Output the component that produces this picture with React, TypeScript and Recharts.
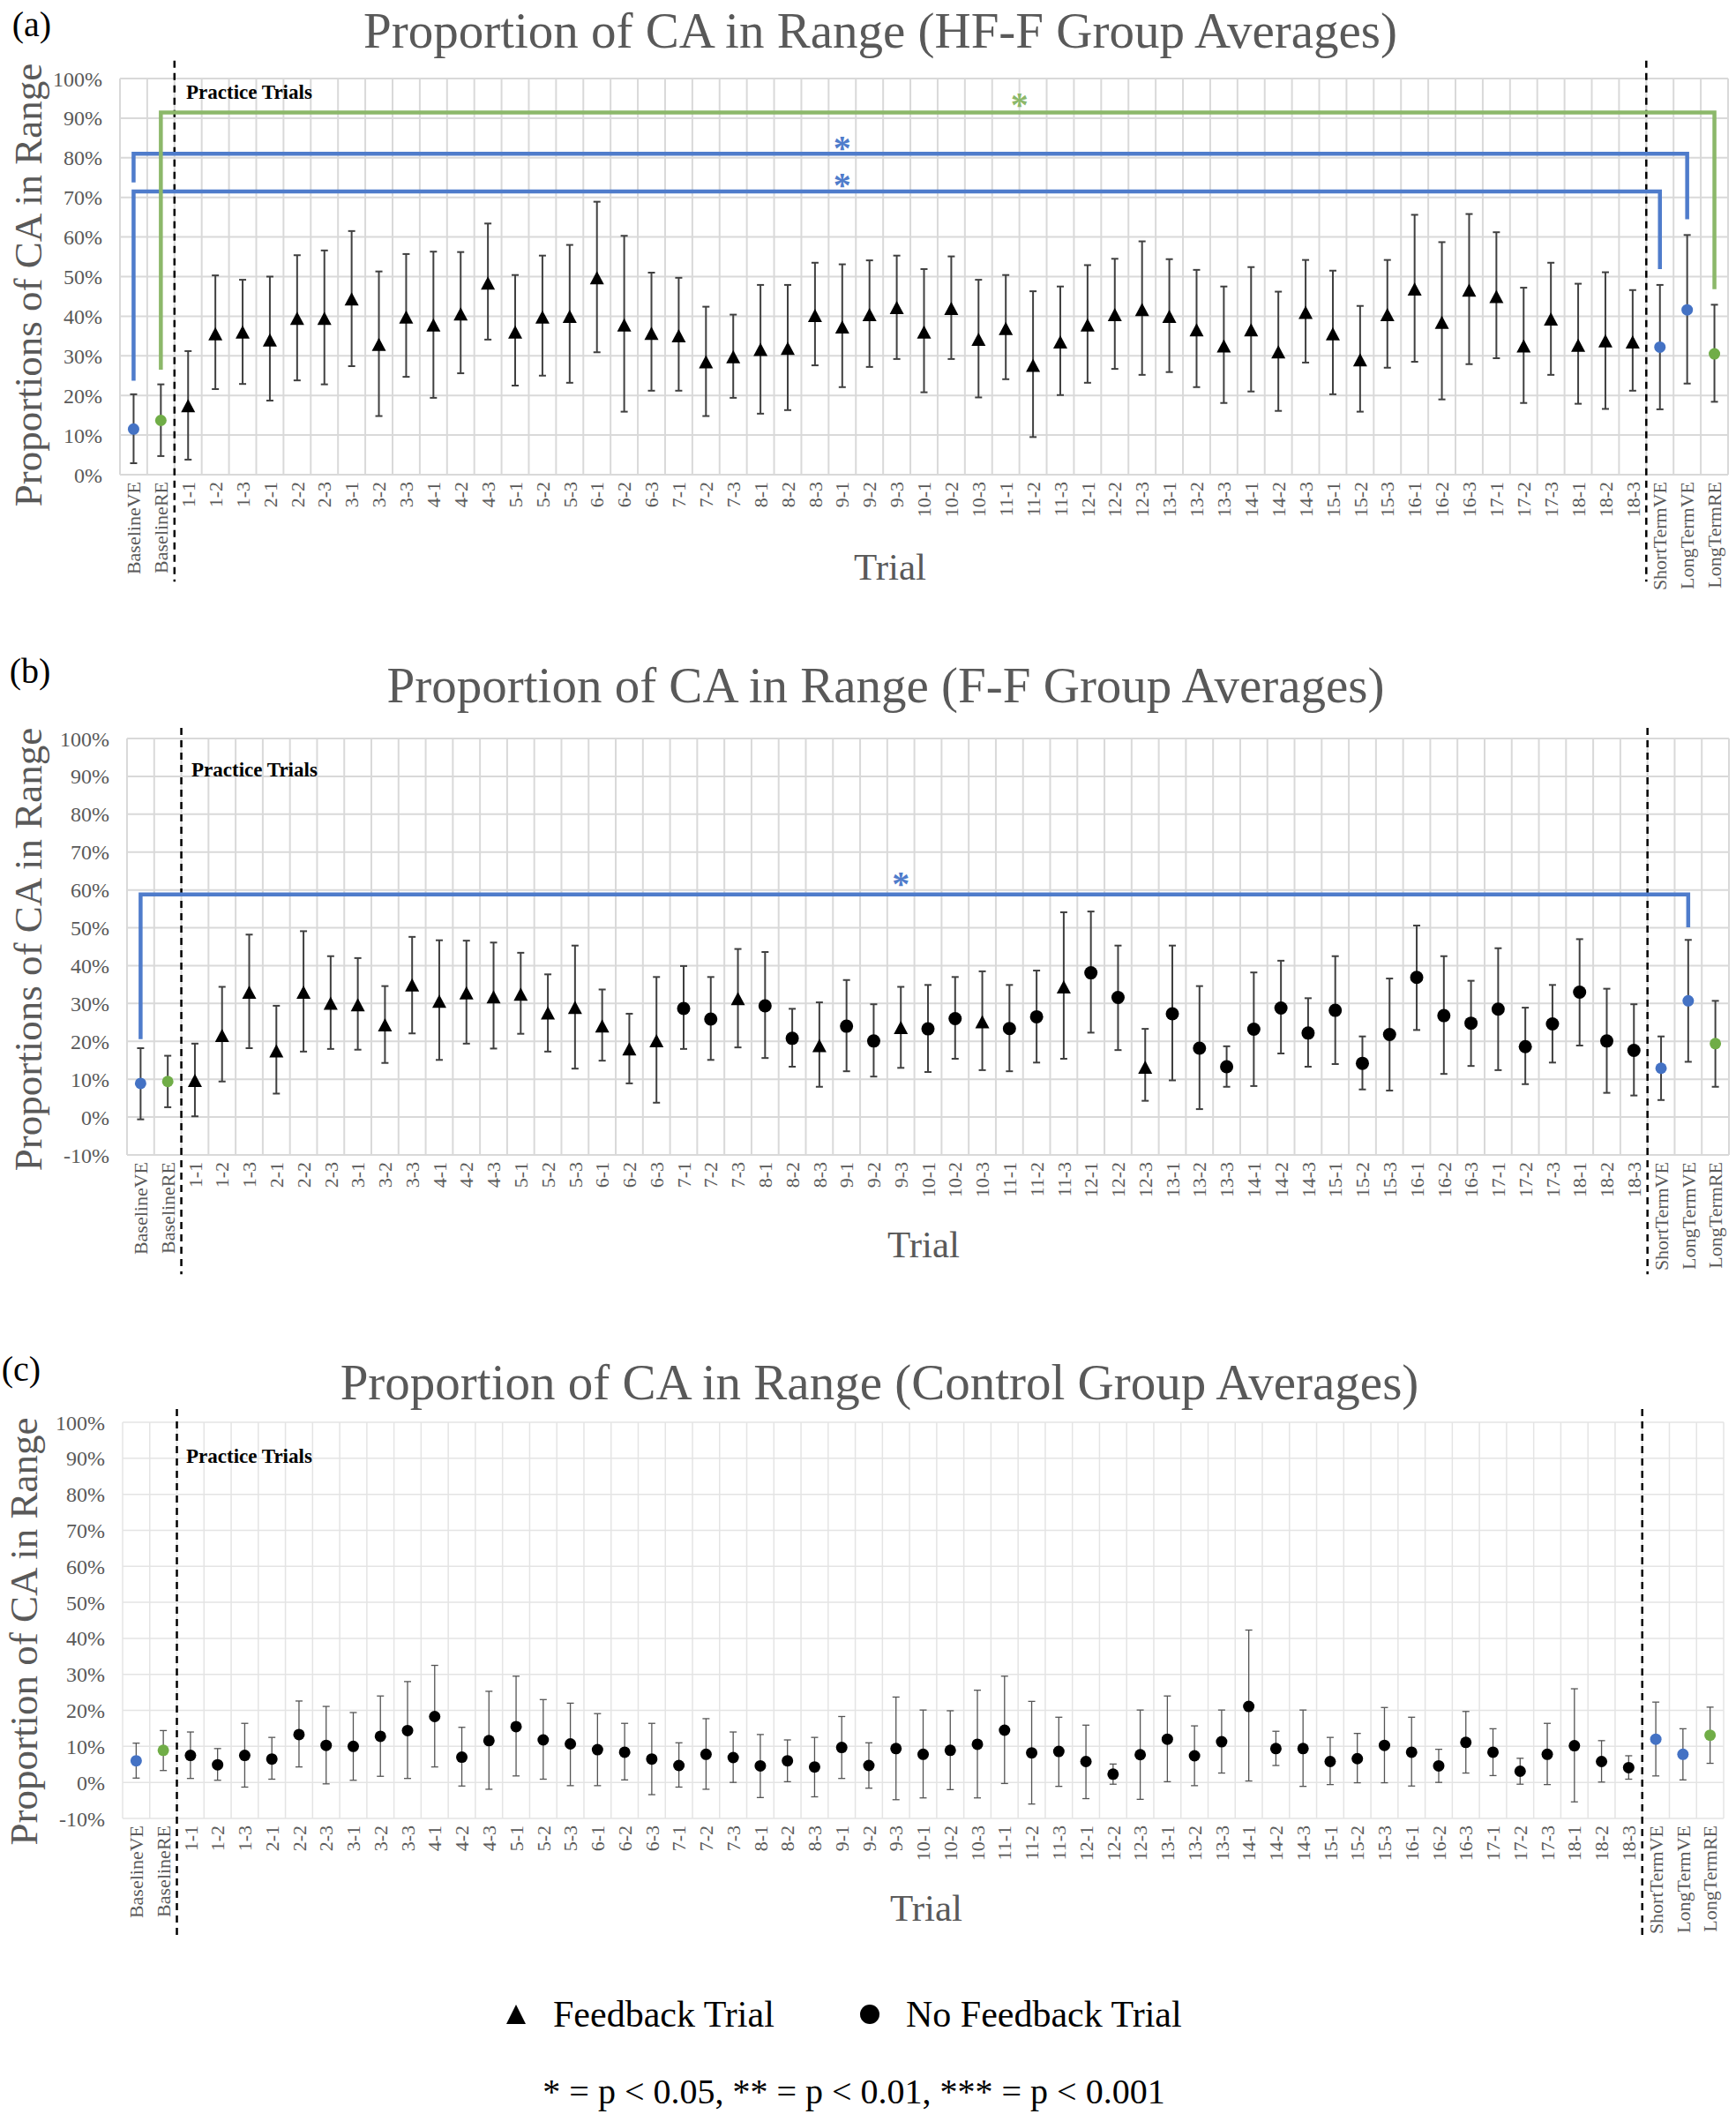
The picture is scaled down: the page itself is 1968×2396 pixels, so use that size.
import { ScatterChart, Scatter, XAxis, YAxis, CartesianGrid, ErrorBar, ReferenceLine } from 'recharts'

const categories = [
  'BaselineVE', 'BaselineRE',
  '1-1', '1-2', '1-3', '2-1', '2-2', '2-3', '3-1', '3-2', '3-3',
  '4-1', '4-2', '4-3', '5-1', '5-2', '5-3', '6-1', '6-2', '6-3',
  '7-1', '7-2', '7-3', '8-1', '8-2', '8-3', '9-1', '9-2', '9-3',
  '10-1', '10-2', '10-3', '11-1', '11-2', '11-3', '12-1', '12-2', '12-3',
  '13-1', '13-2', '13-3', '14-1', '14-2', '14-3', '15-1', '15-2', '15-3',
  '16-1', '16-2', '16-3', '17-1', '17-2', '17-3', '18-1', '18-2', '18-3',
  'ShortTermVE', 'LongTermVE', 'LongTermRE',
]

// V = blue VE point, R = green RE point, T = feedback trial, C = no feedback trial
const aKinds = 'VR TTT TTT TTT TTT TTT TTT TTT TTT TTT TTT TTT TTT TTT TTT TTT TTT TTT TTT VVR'.replace(/ /g, '')
const bKinds = 'VR TTT TTT TTT TTT TTT TTT CCT CCT CCT CCT CCT CCT CCC CCC CCC CCC CCC CCC VVR'.replace(/ /g, '')
const cKinds = 'VR CCC CCC CCC CCC CCC CCC CCC CCC CCC CCC CCC CCC CCC CCC CCC CCC CCC CCC VVR'.replace(/ /g, '')

// (a) HF-F group, % in range
const aMean = [11.5, 13.7,
  17.4, 35.6, 36.0, 34.0, 39.5, 39.5, 44.4, 32.9, 39.8,
  37.8, 40.6, 48.4, 36.0, 39.8, 40.0, 49.7, 37.8, 35.7,
  35.1, 28.5, 29.8, 31.6, 31.9, 40.2, 37.3, 40.4, 42.2,
  36.0, 42.0, 34.2, 36.9, 27.6, 33.5, 37.8, 40.4, 41.7,
  40.0, 36.6, 32.5, 36.6, 31.0, 41.0, 35.6, 29.0, 40.4,
  46.9, 38.5, 46.6, 45.0, 32.5, 39.3, 32.7, 33.8, 33.5,
  32.2, 41.6, 30.5]
const aUpper = [20.3, 22.8,
  31.2, 50.3, 49.2, 50.0, 55.4, 56.6, 61.5, 51.3, 55.7,
  56.3, 56.2, 63.4, 50.4, 55.3, 58.0, 68.9, 60.3, 51.0,
  49.7, 42.4, 40.4, 47.9, 47.9, 53.5, 53.1, 54.1, 55.3,
  51.9, 55.1, 49.2, 50.4, 46.3, 47.5, 52.9, 54.5, 58.9,
  54.4, 51.7, 47.5, 52.4, 46.2, 54.2, 51.5, 42.6, 54.2,
  65.6, 58.7, 65.8, 61.2, 47.2, 53.5, 48.2, 51.1, 46.6,
  47.9, 60.5, 42.9]
const aLower = [2.9, 4.7,
  3.8, 21.6, 22.9, 18.7, 23.8, 22.8, 27.4, 14.8, 24.7,
  19.4, 25.6, 34.1, 22.5, 25.0, 23.2, 30.9, 15.9, 21.2,
  21.2, 14.8, 19.4, 15.4, 16.3, 27.6, 22.1, 27.2, 29.2,
  20.8, 29.2, 19.5, 24.1, 9.5, 20.1, 23.2, 26.7, 25.2,
  25.9, 22.1, 18.1, 21.0, 16.1, 28.3, 20.3, 15.9, 27.0,
  28.5, 19.0, 27.9, 29.4, 18.1, 25.2, 17.9, 16.6, 21.2,
  16.5, 23.0, 18.4]

// (b) F-F group
const bMean = [8.9, 9.4,
  9.7, 21.6, 33.0, 17.5, 33.0, 30.1, 29.7, 24.4, 34.9,
  30.6, 32.8, 31.8, 32.5, 27.5, 29.0, 24.1, 18.0, 20.2,
  28.7, 25.9, 31.3, 29.4, 20.8, 18.9, 24.0, 20.1, 23.7,
  23.3, 26.0, 25.2, 23.4, 26.5, 34.4, 38.1, 31.6, 13.2,
  27.3, 18.2, 13.3, 23.2, 28.8, 22.2, 28.2, 14.2, 21.8,
  36.9, 26.8, 24.8, 28.5, 18.6, 24.6, 33.0, 20.1, 17.6,
  12.9, 30.7, 19.4]
const bUpper = [18.2, 16.2,
  19.4, 34.4, 48.2, 29.4, 49.1, 42.5, 42.0, 34.6, 47.6,
  46.7, 46.6, 46.1, 43.4, 37.7, 45.3, 33.7, 27.3, 37.0,
  39.9, 37.0, 44.4, 43.6, 28.6, 30.3, 36.2, 29.8, 34.4,
  34.9, 37.0, 38.5, 34.9, 38.7, 54.1, 54.3, 45.3, 23.3,
  45.3, 34.6, 18.7, 38.2, 41.3, 31.4, 42.5, 21.3, 36.6,
  50.6, 42.5, 36.0, 44.6, 28.9, 34.9, 47.0, 33.9, 29.8,
  21.3, 46.8, 30.7]
const bLower = [-0.6, 2.6,
  0.2, 9.4, 18.2, 6.2, 17.3, 18.0, 17.8, 14.3, 22.1,
  15.1, 19.4, 18.1, 22.0, 17.3, 12.8, 14.9, 8.9, 3.8,
  18.0, 15.1, 18.4, 15.6, 13.3, 8.0, 12.1, 10.7, 13.0,
  11.9, 15.4, 12.4, 12.1, 14.4, 15.4, 22.3, 17.7, 4.3,
  9.7, 2.1, 8.0, 8.2, 16.8, 13.3, 14.0, 7.3, 7.0,
  23.0, 11.4, 13.5, 12.4, 8.7, 14.4, 18.9, 6.4, 5.7,
  4.5, 14.6, 8.0]

// (c) control group
const cMean = [6.0, 8.9,
  7.5, 4.9, 7.5, 6.5, 13.3, 10.3, 10.0, 12.8, 14.4,
  18.3, 7.0, 11.6, 15.5, 11.8, 10.7, 9.1, 8.4, 6.5,
  4.7, 7.8, 6.9, 4.6, 6.0, 4.3, 9.7, 4.7, 9.4,
  7.8, 8.9, 10.6, 14.5, 8.2, 8.6, 5.8, 2.3, 7.7,
  12.0, 7.4, 11.3, 21.1, 9.4, 9.4, 5.8, 6.6, 10.3,
  8.4, 4.6, 11.1, 8.4, 3.1, 7.8, 10.2, 5.8, 4.1,
  12.0, 7.8, 13.1]
const cUpper = [10.9, 14.4,
  14.0, 9.4, 16.4, 12.5, 22.6, 21.1, 19.4, 24.0, 28.0,
  32.5, 15.3, 25.3, 29.5, 23.0, 22.0, 19.1, 16.4, 16.4,
  11.0, 17.7, 14.0, 13.3, 11.8, 12.5, 18.3, 11.0, 23.7,
  20.1, 19.9, 25.6, 29.5, 22.5, 18.1, 15.9, 5.1, 20.1,
  24.0, 15.7, 20.1, 42.3, 14.2, 20.1, 12.5, 13.6, 20.8,
  18.1, 9.2, 19.7, 14.9, 6.7, 16.4, 26.0, 11.6, 7.4,
  22.3, 14.9, 20.9]
const cLower = [1.2, 3.3,
  1.1, 0.6, -1.3, 0.9, 4.3, -0.4, 0.6, 1.7, 1.1,
  4.3, -1.0, -1.9, 1.8, 0.9, -0.9, -0.9, 0.7, -3.4,
  -1.3, -1.9, 0.0, -4.2, 0.2, -4.0, 1.1, -1.6, -4.8,
  -4.3, -2.0, -4.3, -0.3, -6.0, -1.1, -4.5, -0.5, -4.7,
  0.2, -0.9, 2.6, 0.4, 4.7, -1.1, -0.6, -0.1, -0.1,
  -1.0, 0.0, 2.6, 1.9, -0.5, -0.6, -5.4, 0.1, 0.9,
  1.8, 0.7, 5.3]

const aTicks = [0, 10, 20, 30, 40, 50, 60, 70, 80, 90, 100]
const bcTicks = [-10, 0, 10, 20, 30, 40, 50, 60, 70, 80, 90, 100]

// significance brackets: category index from/to, y of left leg end, top, right leg end
const aBrackets = [
  { from: 0, to: 56, left: 23.7, top: 71.5, right: 51.9, color: 'blue' },
  { from: 0, to: 57, left: 73.8, top: 81.0, right: 64.5, color: 'blue' },
  { from: 1, to: 58, left: 26.5, top: 91.4, right: 46.8, color: 'green' },
]
const aStars = [
  { x: 26.5, y: 84.1, color: 'blue' },
  { x: 26.5, y: 74.8, color: 'blue' },
  { x: 33.0, y: 95.1, color: 'green' },
]
const bBrackets = [{ from: 0, to: 57, left: 20.6, top: 58.8, right: 50.1, color: 'blue' }]
const bStars = [{ x: 28.5, y: 63.4, color: 'blue' }]

const BLUE = '#4472C4'
const GREEN = '#70AD47'
const LINE_COLORS: Record<string, string> = { blue: '#4F7CCB', green: '#8CB86A' }
const SERIF = '"Liberation Serif", "Times New Roman", serif'
const GRAY = '#595959'

const tickPos = categories.map((_, i) => i + 0.5)
const bounds = categories.map((_, i) => i).concat([categories.length])

function buildRows(mean: number[], upper: number[], lower: number[], kinds: string) {
  return mean.map((m, i) => ({ x: i + 0.5, y: m, err: [m - lower[i], upper[i] - m], kind: kinds[i] }))
}

const triShape = (w: number, h: number) => (p: any) => (
  <polygon points={`${p.cx},${p.cy - h / 2} ${p.cx + w / 2},${p.cy + h / 2} ${p.cx - w / 2},${p.cy + h / 2}`} fill="#000" />
)
const dotShape = (r: number, fill: string) => (p: any) => <circle cx={p.cx} cy={p.cy} r={r} fill={fill} />
const starShape = (fill: string) => (p: any) => (
  <text x={p.cx} y={p.cy + 21} textAnchor="middle" fontSize={40} fontFamily={SERIF} fontWeight="bold" fill={fill}>*</text>
)
const noShape = () => <g />

function XTick(props: any) {
  const { x, y, payload, color } = props
  const label = categories[Math.floor(payload.value)]
  return (
    <text x={x} y={y} transform={`rotate(-90 ${x} ${y})`} textAnchor="end" dy="0.35em"
      fontSize={22} fontFamily={SERIF} fill={color}>{label}</text>
  )
}

interface PanelCfg {
  top: number; height: number; marginTop: number; xAxisHeight: number; yAxisWidth: number; marginRight: number
  mean: number[]; upper: number[]; lower: number[]; kinds: string
  domain: [number, number]; ticks: number[]
  brackets: typeof aBrackets; stars: typeof aStars
  sep: [number, number]; sepY: [number, number]; light: boolean
}

function Panel({ cfg }: { cfg: PanelCfg }) {
  const rows = buildRows(cfg.mean, cfg.upper, cfg.lower, cfg.kinds)
  const pick = (k: string) => rows.filter(r => r.kind === k)
  const gridStroke = cfg.light ? '#e4e4e4' : '#d9d9d9'
  const gridWidth = cfg.light ? 1.5 : 2
  const errStroke = cfg.light ? '#555' : '#404040'
  const errWidth = cfg.light ? 1.3 : 2
  const circleR = cfg.light ? 6.5 : 7.5
  const err = <ErrorBar dataKey="err" direction="y" width={4} stroke={errStroke} strokeWidth={errWidth} isAnimationActive={false} />
  return (
    <div style={{ position: 'absolute', left: 0, top: cfg.top }}>
      <ScatterChart width={1968} height={cfg.height}
        margin={{ top: cfg.marginTop, right: cfg.marginRight, bottom: 0, left: 0 }}>
        <CartesianGrid stroke={gridStroke} strokeWidth={gridWidth} verticalValues={bounds} />
        <XAxis type="number" dataKey="x" domain={[0, categories.length]} ticks={tickPos} interval={0}
          allowDataOverflow axisLine={false} tickLine={false} tickSize={0} tickMargin={8}
          height={cfg.xAxisHeight} tick={(p: any) => <XTick {...p} color={GRAY} />} />
        <YAxis type="number" dataKey="y" domain={cfg.domain} ticks={cfg.ticks} interval={0} allowDataOverflow
          axisLine={false} tickLine={false} tickSize={0} tickMargin={20} width={cfg.yAxisWidth}
          tickFormatter={(v) => v + '%'} tick={{ fontSize: 24, fontFamily: SERIF, fill: GRAY }} />
        {cfg.sep.map(s => (
          <ReferenceLine key={s} ifOverflow="visible" segment={[{ x: s, y: cfg.sepY[0] }, { x: s, y: cfg.sepY[1] }]}
            stroke="#000" strokeWidth={2.5} strokeDasharray="8 6" />
        ))}
        {cfg.brackets.map((b, i) => (
          <Scatter key={'br' + i} isAnimationActive={false} shape={noShape}
            data={[{ x: b.from + 0.5, y: b.left }, { x: b.from + 0.5, y: b.top }, { x: b.to + 0.5, y: b.top }, { x: b.to + 0.5, y: b.right }]}
            line={{ stroke: LINE_COLORS[b.color], strokeWidth: 4.5 }} fill={LINE_COLORS[b.color]} />
        ))}
        <Scatter data={cfg.stars.filter(s => s.color === 'blue')} shape={starShape(LINE_COLORS.blue)} isAnimationActive={false} />
        <Scatter data={cfg.stars.filter(s => s.color === 'green')} shape={starShape(LINE_COLORS.green)} isAnimationActive={false} />
        <Scatter data={pick('T')} shape={triShape(16, 15)} isAnimationActive={false}>{err}</Scatter>
        <Scatter data={pick('C')} shape={dotShape(circleR, '#000')} isAnimationActive={false}>{err}</Scatter>
        <Scatter data={pick('V')} shape={dotShape(6.5, BLUE)} isAnimationActive={false}>{err}</Scatter>
        <Scatter data={pick('R')} shape={dotShape(6.5, GREEN)} isAnimationActive={false}>{err}</Scatter>
      </ScatterChart>
    </div>
  )
}

function Txt({ x, y, size, color = GRAY, children, rotate, weight, left }: any) {
  return (
    <div style={{
      position: 'absolute', left: x, top: y, fontFamily: SERIF, fontSize: size, color, fontWeight: weight || 'normal',
      whiteSpace: 'nowrap', lineHeight: 1, transform: `translate(${left ? '0' : '-50%'}, -50%)${rotate ? ' rotate(-90deg)' : ''}`,
    }}>{children}</div>
  )
}

const panels: PanelCfg[] = [
  { top: 0, height: 700, marginTop: 89, xAxisHeight: 162, yAxisWidth: 136, marginRight: 9,
    mean: aMean, upper: aUpper, lower: aLower, kinds: aKinds, domain: [0, 100], ticks: aTicks,
    brackets: aBrackets, stars: aStars, sep: [2, 56], sepY: [104.5, -27], light: false },
  { top: 740, height: 720, marginTop: 97, xAxisHeight: 151, yAxisWidth: 144, marginRight: 8,
    mean: bMean, upper: bUpper, lower: bLower, kinds: bKinds, domain: [-10, 100], ticks: bcTicks,
    brackets: bBrackets, stars: bStars, sep: [2, 56], sepY: [102.8, -41.5], light: false },
  { top: 1540, height: 680, marginTop: 72, xAxisHeight: 159, yAxisWidth: 139, marginRight: 14,
    mean: cMean, upper: cUpper, lower: cLower, kinds: cKinds, domain: [-10, 100], ticks: bcTicks,
    brackets: [], stars: [], sep: [2, 56], sepY: [103.7, -43.3], light: true },
]

export default function App() {
  return (
    <div style={{ position: 'absolute', left: 0, top: 0, width: 1968, height: 2396, background: '#fff', overflow: 'hidden' }}>
      {panels.map((p, i) => <Panel key={i} cfg={p} />)}

      <Txt x={36} y={28} size={40} color="#000">(a)</Txt>
      <Txt x={998} y={34} size={57}>Proportion of CA in Range (HF-F Group Averages)</Txt>
      <Txt x={32} y={323} size={45} rotate>Proportions of CA in Range</Txt>
      <Txt x={1009} y={642} size={43}>Trial</Txt>
      <Txt x={211} y={104} size={23} color="#000" weight="bold" left>Practice Trials</Txt>

      <Txt x={34} y={761} size={40} color="#000">(b)</Txt>
      <Txt x={1004} y={776} size={57}>Proportion of CA in Range (F-F Group Averages)</Txt>
      <Txt x={32} y={1076} size={45} rotate>Proportions of CA in Range</Txt>
      <Txt x={1047} y={1410} size={43}>Trial</Txt>
      <Txt x={217} y={872} size={23} color="#000" weight="bold" left>Practice Trials</Txt>

      <Txt x={24} y={1552} size={40} color="#000">(c)</Txt>
      <Txt x={997} y={1566} size={57}>Proportion of CA in Range (Control Group Averages)</Txt>
      <Txt x={27} y={1849} size={45} rotate>Proportion of CA in Range</Txt>
      <Txt x={1050} y={2162} size={43}>Trial</Txt>
      <Txt x={211} y={1650} size={23} color="#000" weight="bold" left>Practice Trials</Txt>

      <svg style={{ position: 'absolute', left: 573, top: 2271 }} width={24} height={24}>
        <polygon points="12,1 23,23 1,23" fill="#000" />
      </svg>
      <Txt x={627} y={2283} size={42} color="#000" left>Feedback Trial</Txt>
      <svg style={{ position: 'absolute', left: 975, top: 2272 }} width={22} height={22}>
        <circle cx={11} cy={11} r={11} fill="#000" />
      </svg>
      <Txt x={1027} y={2283} size={42} color="#000" left>No Feedback Trial</Txt>
      <Txt x={968} y={2371} size={40} color="#000">* = p &lt; 0.05, ** = p &lt; 0.01, *** = p &lt; 0.001</Txt>
    </div>
  )
}
